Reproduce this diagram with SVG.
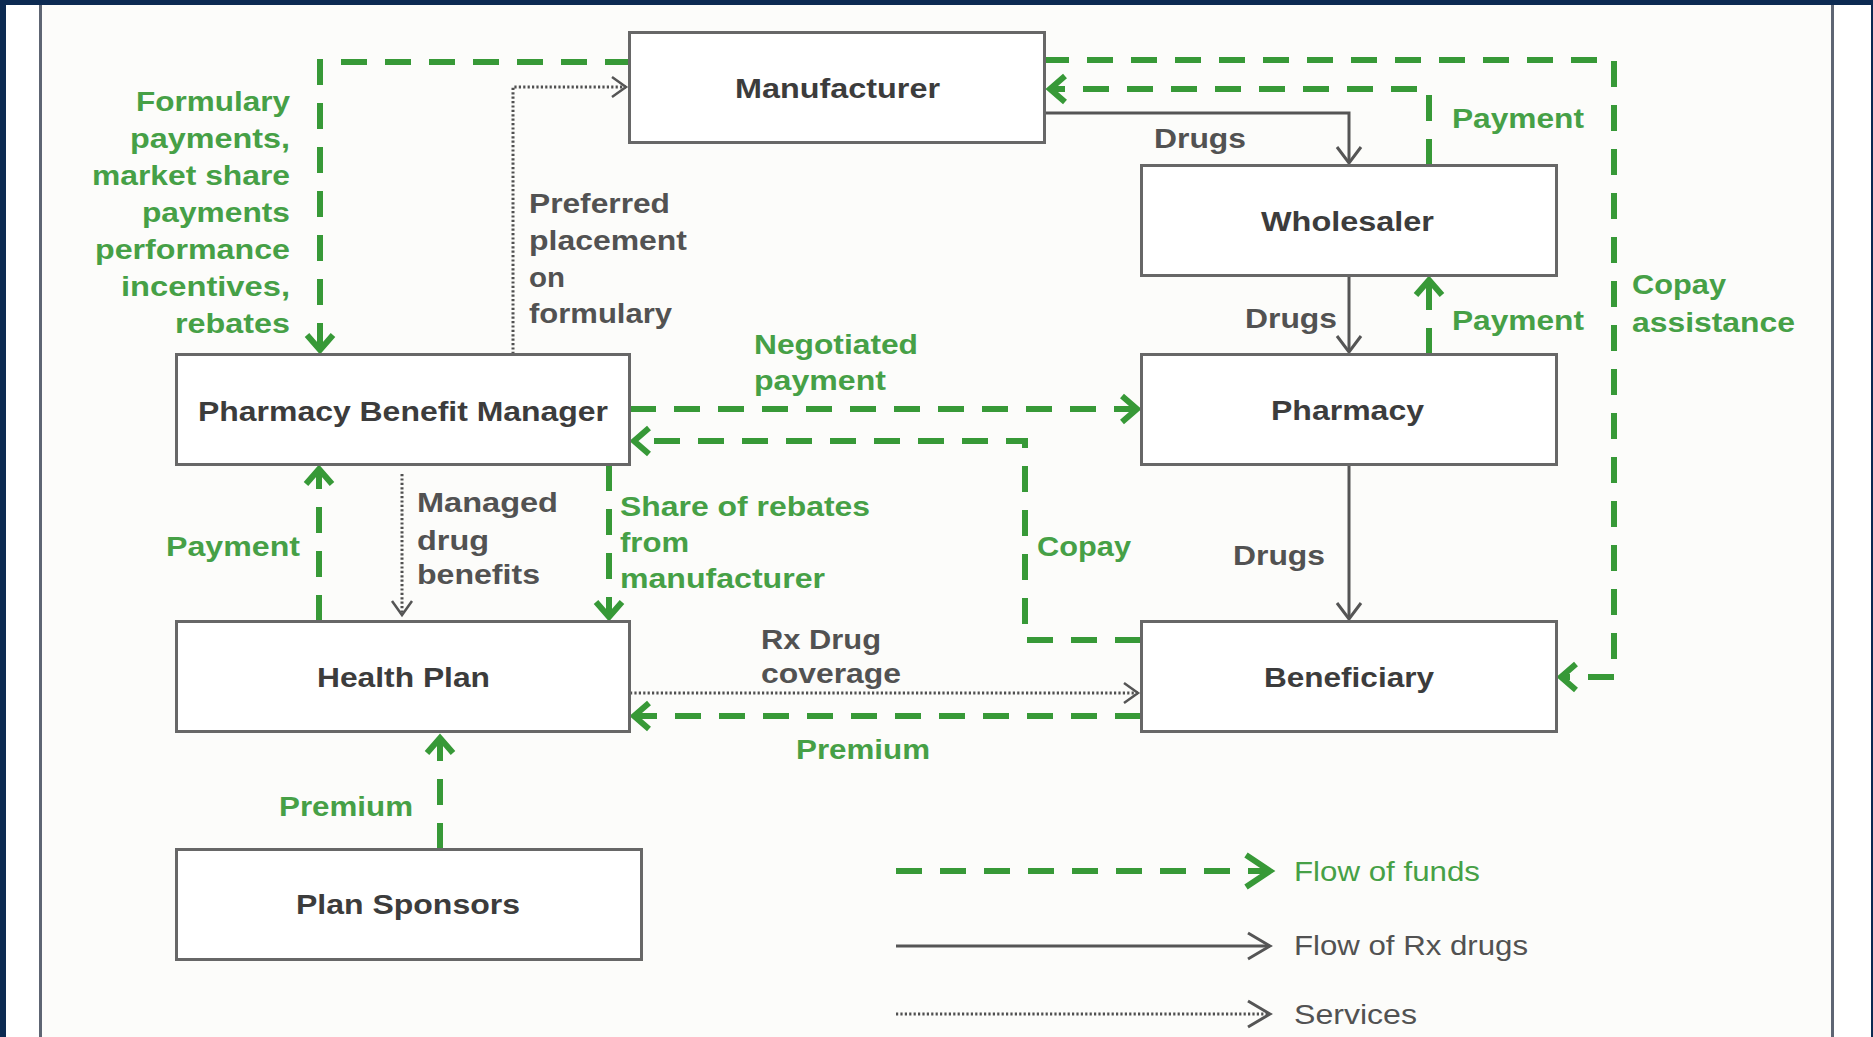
<svg xmlns="http://www.w3.org/2000/svg" width="1873" height="1037" viewBox="0 0 1873 1037">
<defs>
<style>
.box{fill:#ffffff;stroke:#676767;stroke-width:3}
.bl{font-family:"Liberation Sans",Arial,sans-serif;font-weight:bold;font-size:28px;fill:#3c3c3c}
.gl{font-family:"Liberation Sans",Arial,sans-serif;font-weight:bold;font-size:27px;fill:#46a046}
.kl{font-family:"Liberation Sans",Arial,sans-serif;font-weight:bold;font-size:27px;fill:#525252}
.lgg{font-family:"Liberation Sans",Arial,sans-serif;font-size:27px;fill:#46a046}
.lgk{font-family:"Liberation Sans",Arial,sans-serif;font-size:27px;fill:#525252}
.fund{fill:none;stroke:#379937;stroke-width:6;stroke-dasharray:26 18}
.fundsolid{fill:none;stroke:#379937;stroke-width:5}
.drug{fill:none;stroke:#555555;stroke-width:3}
.svc{fill:none;stroke:#505050;stroke-width:3;stroke-dasharray:2.2 2.2}
.mg{fill:none;stroke:#379937;stroke-width:6;stroke-linejoin:miter}
.mk{fill:none;stroke:#555555;stroke-width:3;stroke-linejoin:miter}
.ms{fill:none;stroke:#555555;stroke-width:2.5;stroke-linejoin:miter}
</style>
<marker id="ag" markerUnits="userSpaceOnUse" viewBox="-22 -18 30 36" markerWidth="30" markerHeight="36" refX="0" refY="0" orient="auto">
<path class="mg" d="M -15,-13 L 0,0 L -15,13"/>
</marker>
<marker id="agL" markerUnits="userSpaceOnUse" viewBox="-30 -22 38 44" markerWidth="38" markerHeight="44" refX="0" refY="0" orient="auto">
<path class="mg" d="M -24,-16 L 0,0 L -24,16"/>
</marker>
<marker id="ak" markerUnits="userSpaceOnUse" viewBox="-22 -16 28 32" markerWidth="28" markerHeight="32" refX="0" refY="0" orient="auto">
<path class="mk" d="M -16,-12 L 0,0 L -16,12"/>
</marker>
<marker id="akL" markerUnits="userSpaceOnUse" viewBox="-28 -17 34 34" markerWidth="34" markerHeight="34" refX="0" refY="0" orient="auto">
<path class="mk" d="M -22,-13 L 0,0 L -22,13"/>
</marker>
<marker id="as" markerUnits="userSpaceOnUse" viewBox="-20 -14 26 28" markerWidth="26" markerHeight="28" refX="0" refY="0" orient="auto">
<path class="ms" d="M -14,-10 L 0,0 L -14,10"/>
</marker>
</defs>

<g id="frame">
<rect x="0" y="0" width="1873" height="1037" fill="#ffffff"/>
<rect x="42" y="4" width="1789" height="1033" fill="#fcfcfa"/>
<rect x="0" y="0" width="1873" height="5" fill="#0c2a52"/>
<rect x="0" y="0" width="6" height="1037" fill="#0c2a52"/>
<rect x="1871" y="0" width="2" height="1037" fill="#0c2a52"/>
<line x1="40.5" y1="5" x2="40.5" y2="1037" stroke="#5e6573" stroke-width="3"/>
<line x1="1832.5" y1="5" x2="1832.5" y2="1037" stroke="#5e6573" stroke-width="3"/>
</g>

<g id="connectors">
<!-- flow of funds -->
<path class="fundsolid" d="M 631,33 V 62"/>
<path class="fund" d="M 631,62 H 320 V 350" marker-end="url(#ag)"/>
<path class="fund" d="M 1429,165 V 89 H 1050" marker-end="url(#ag)"/>
<path class="fundsolid" d="M 1043,33 V 60"/>
<path class="fund" d="M 1043,60 H 1614 V 677 H 1561" marker-end="url(#ag)"/>
<path class="fund" d="M 1429,354 V 280" marker-end="url(#ag)"/>
<path class="fund" d="M 630,409 H 1137" marker-end="url(#ag)"/>
<path class="fund" d="M 1141,640 H 1025 V 441 H 634" marker-end="url(#ag)"/>
<path class="fund" d="M 609,465 V 617" marker-end="url(#ag)"/>
<path class="fund" d="M 319,621 V 469" marker-end="url(#ag)"/>
<path class="fund" d="M 1141,716 H 634" marker-end="url(#ag)"/>
<path class="fund" d="M 440,849 V 738" marker-end="url(#ag)"/>
<!-- flow of drugs -->
<path class="drug" d="M 1045,113 H 1349 V 163" marker-end="url(#ak)"/>
<path class="drug" d="M 1349,276 V 352" marker-end="url(#ak)"/>
<path class="drug" d="M 1349,465 V 619" marker-end="url(#ak)"/>
<!-- services -->
<path class="svc" d="M 513,354 V 87 H 626" marker-end="url(#as)"/>
<path class="svc" d="M 402,474 V 615" marker-end="url(#as)"/>
<path class="svc" d="M 630,693 H 1138" marker-end="url(#as)"/>
</g>

<g id="manufacturer">
<rect class="box" x="629.5" y="32.5" width="415" height="110"/>
<text class="bl" x="735" y="98" textLength="205" lengthAdjust="spacingAndGlyphs">Manufacturer</text>
</g>
<g id="wholesaler">
<rect class="box" x="1141.5" y="165.5" width="415" height="110"/>
<text class="bl" x="1261" y="231" textLength="173" lengthAdjust="spacingAndGlyphs">Wholesaler</text>
</g>
<g id="pharmacy">
<rect class="box" x="1141.5" y="354.5" width="415" height="110"/>
<text class="bl" x="1271" y="420" textLength="153" lengthAdjust="spacingAndGlyphs">Pharmacy</text>
</g>
<g id="pbm">
<rect class="box" x="176.5" y="354.5" width="453" height="110"/>
<text class="bl" x="198" y="421" textLength="410" lengthAdjust="spacingAndGlyphs">Pharmacy Benefit Manager</text>
</g>
<g id="health-plan">
<rect class="box" x="176.5" y="621.5" width="453" height="110"/>
<text class="bl" x="317" y="687" textLength="173" lengthAdjust="spacingAndGlyphs">Health Plan</text>
</g>
<g id="beneficiary">
<rect class="box" x="1141.5" y="621.5" width="415" height="110"/>
<text class="bl" x="1264" y="687" textLength="170" lengthAdjust="spacingAndGlyphs">Beneficiary</text>
</g>
<g id="plan-sponsors">
<rect class="box" x="176.5" y="849.5" width="465" height="110"/>
<text class="bl" x="296" y="914" textLength="224" lengthAdjust="spacingAndGlyphs">Plan Sponsors</text>
</g>

<g id="labels">
<text class="gl" x="136" y="111" textLength="154" lengthAdjust="spacingAndGlyphs">Formulary</text>
<text class="gl" x="130" y="148" textLength="160" lengthAdjust="spacingAndGlyphs">payments,</text>
<text class="gl" x="92" y="185" textLength="198" lengthAdjust="spacingAndGlyphs">market share</text>
<text class="gl" x="142" y="222" textLength="148" lengthAdjust="spacingAndGlyphs">payments</text>
<text class="gl" x="95" y="259" textLength="195" lengthAdjust="spacingAndGlyphs">performance</text>
<text class="gl" x="121" y="296" textLength="169" lengthAdjust="spacingAndGlyphs">incentives,</text>
<text class="gl" x="175" y="333" textLength="115" lengthAdjust="spacingAndGlyphs">rebates</text>

<text class="kl" x="529" y="213" textLength="141" lengthAdjust="spacingAndGlyphs">Preferred</text>
<text class="kl" x="529" y="250" textLength="158" lengthAdjust="spacingAndGlyphs">placement</text>
<text class="kl" x="529" y="287" textLength="36" lengthAdjust="spacingAndGlyphs">on</text>
<text class="kl" x="529" y="323" textLength="143" lengthAdjust="spacingAndGlyphs">formulary</text>

<text class="kl" x="1154" y="148" textLength="92" lengthAdjust="spacingAndGlyphs">Drugs</text>
<text class="gl" x="1452" y="128" textLength="132" lengthAdjust="spacingAndGlyphs">Payment</text>
<text class="kl" x="1245" y="328" textLength="92" lengthAdjust="spacingAndGlyphs">Drugs</text>
<text class="gl" x="1452" y="330" textLength="132" lengthAdjust="spacingAndGlyphs">Payment</text>
<text class="gl" x="1632" y="294" textLength="94" lengthAdjust="spacingAndGlyphs">Copay</text>
<text class="gl" x="1632" y="332" textLength="163" lengthAdjust="spacingAndGlyphs">assistance</text>

<text class="gl" x="754" y="354" textLength="164" lengthAdjust="spacingAndGlyphs">Negotiated</text>
<text class="gl" x="754" y="390" textLength="132" lengthAdjust="spacingAndGlyphs">payment</text>

<text class="gl" x="166" y="556" textLength="134" lengthAdjust="spacingAndGlyphs">Payment</text>
<text class="kl" x="417" y="512" textLength="141" lengthAdjust="spacingAndGlyphs">Managed</text>
<text class="kl" x="417" y="550" textLength="72" lengthAdjust="spacingAndGlyphs">drug</text>
<text class="kl" x="417" y="584" textLength="123" lengthAdjust="spacingAndGlyphs">benefits</text>

<text class="gl" x="620" y="516" textLength="250" lengthAdjust="spacingAndGlyphs">Share of rebates</text>
<text class="gl" x="620" y="552" textLength="69" lengthAdjust="spacingAndGlyphs">from</text>
<text class="gl" x="620" y="588" textLength="205" lengthAdjust="spacingAndGlyphs">manufacturer</text>

<text class="gl" x="1037" y="556" textLength="94" lengthAdjust="spacingAndGlyphs">Copay</text>
<text class="kl" x="1233" y="565" textLength="92" lengthAdjust="spacingAndGlyphs">Drugs</text>

<text class="kl" x="761" y="649" textLength="120" lengthAdjust="spacingAndGlyphs">Rx Drug</text>
<text class="kl" x="761" y="683" textLength="140" lengthAdjust="spacingAndGlyphs">coverage</text>
<text class="gl" x="796" y="759" textLength="134" lengthAdjust="spacingAndGlyphs">Premium</text>
<text class="gl" x="279" y="816" textLength="134" lengthAdjust="spacingAndGlyphs">Premium</text>
</g>

<g id="legend">
<path class="fund" d="M 896,871 H 1270" marker-end="url(#agL)"/>
<path class="drug" d="M 896,946 H 1270" marker-end="url(#akL)"/>
<path class="svc" d="M 896,1014 H 1270" marker-end="url(#akL)"/>
<text class="lgg" x="1294" y="881" textLength="186" lengthAdjust="spacingAndGlyphs">Flow of funds</text>
<text class="lgk" x="1294" y="955" textLength="234" lengthAdjust="spacingAndGlyphs">Flow of Rx drugs</text>
<text class="lgk" x="1294" y="1024" textLength="123" lengthAdjust="spacingAndGlyphs">Services</text>
</g>
</svg>
